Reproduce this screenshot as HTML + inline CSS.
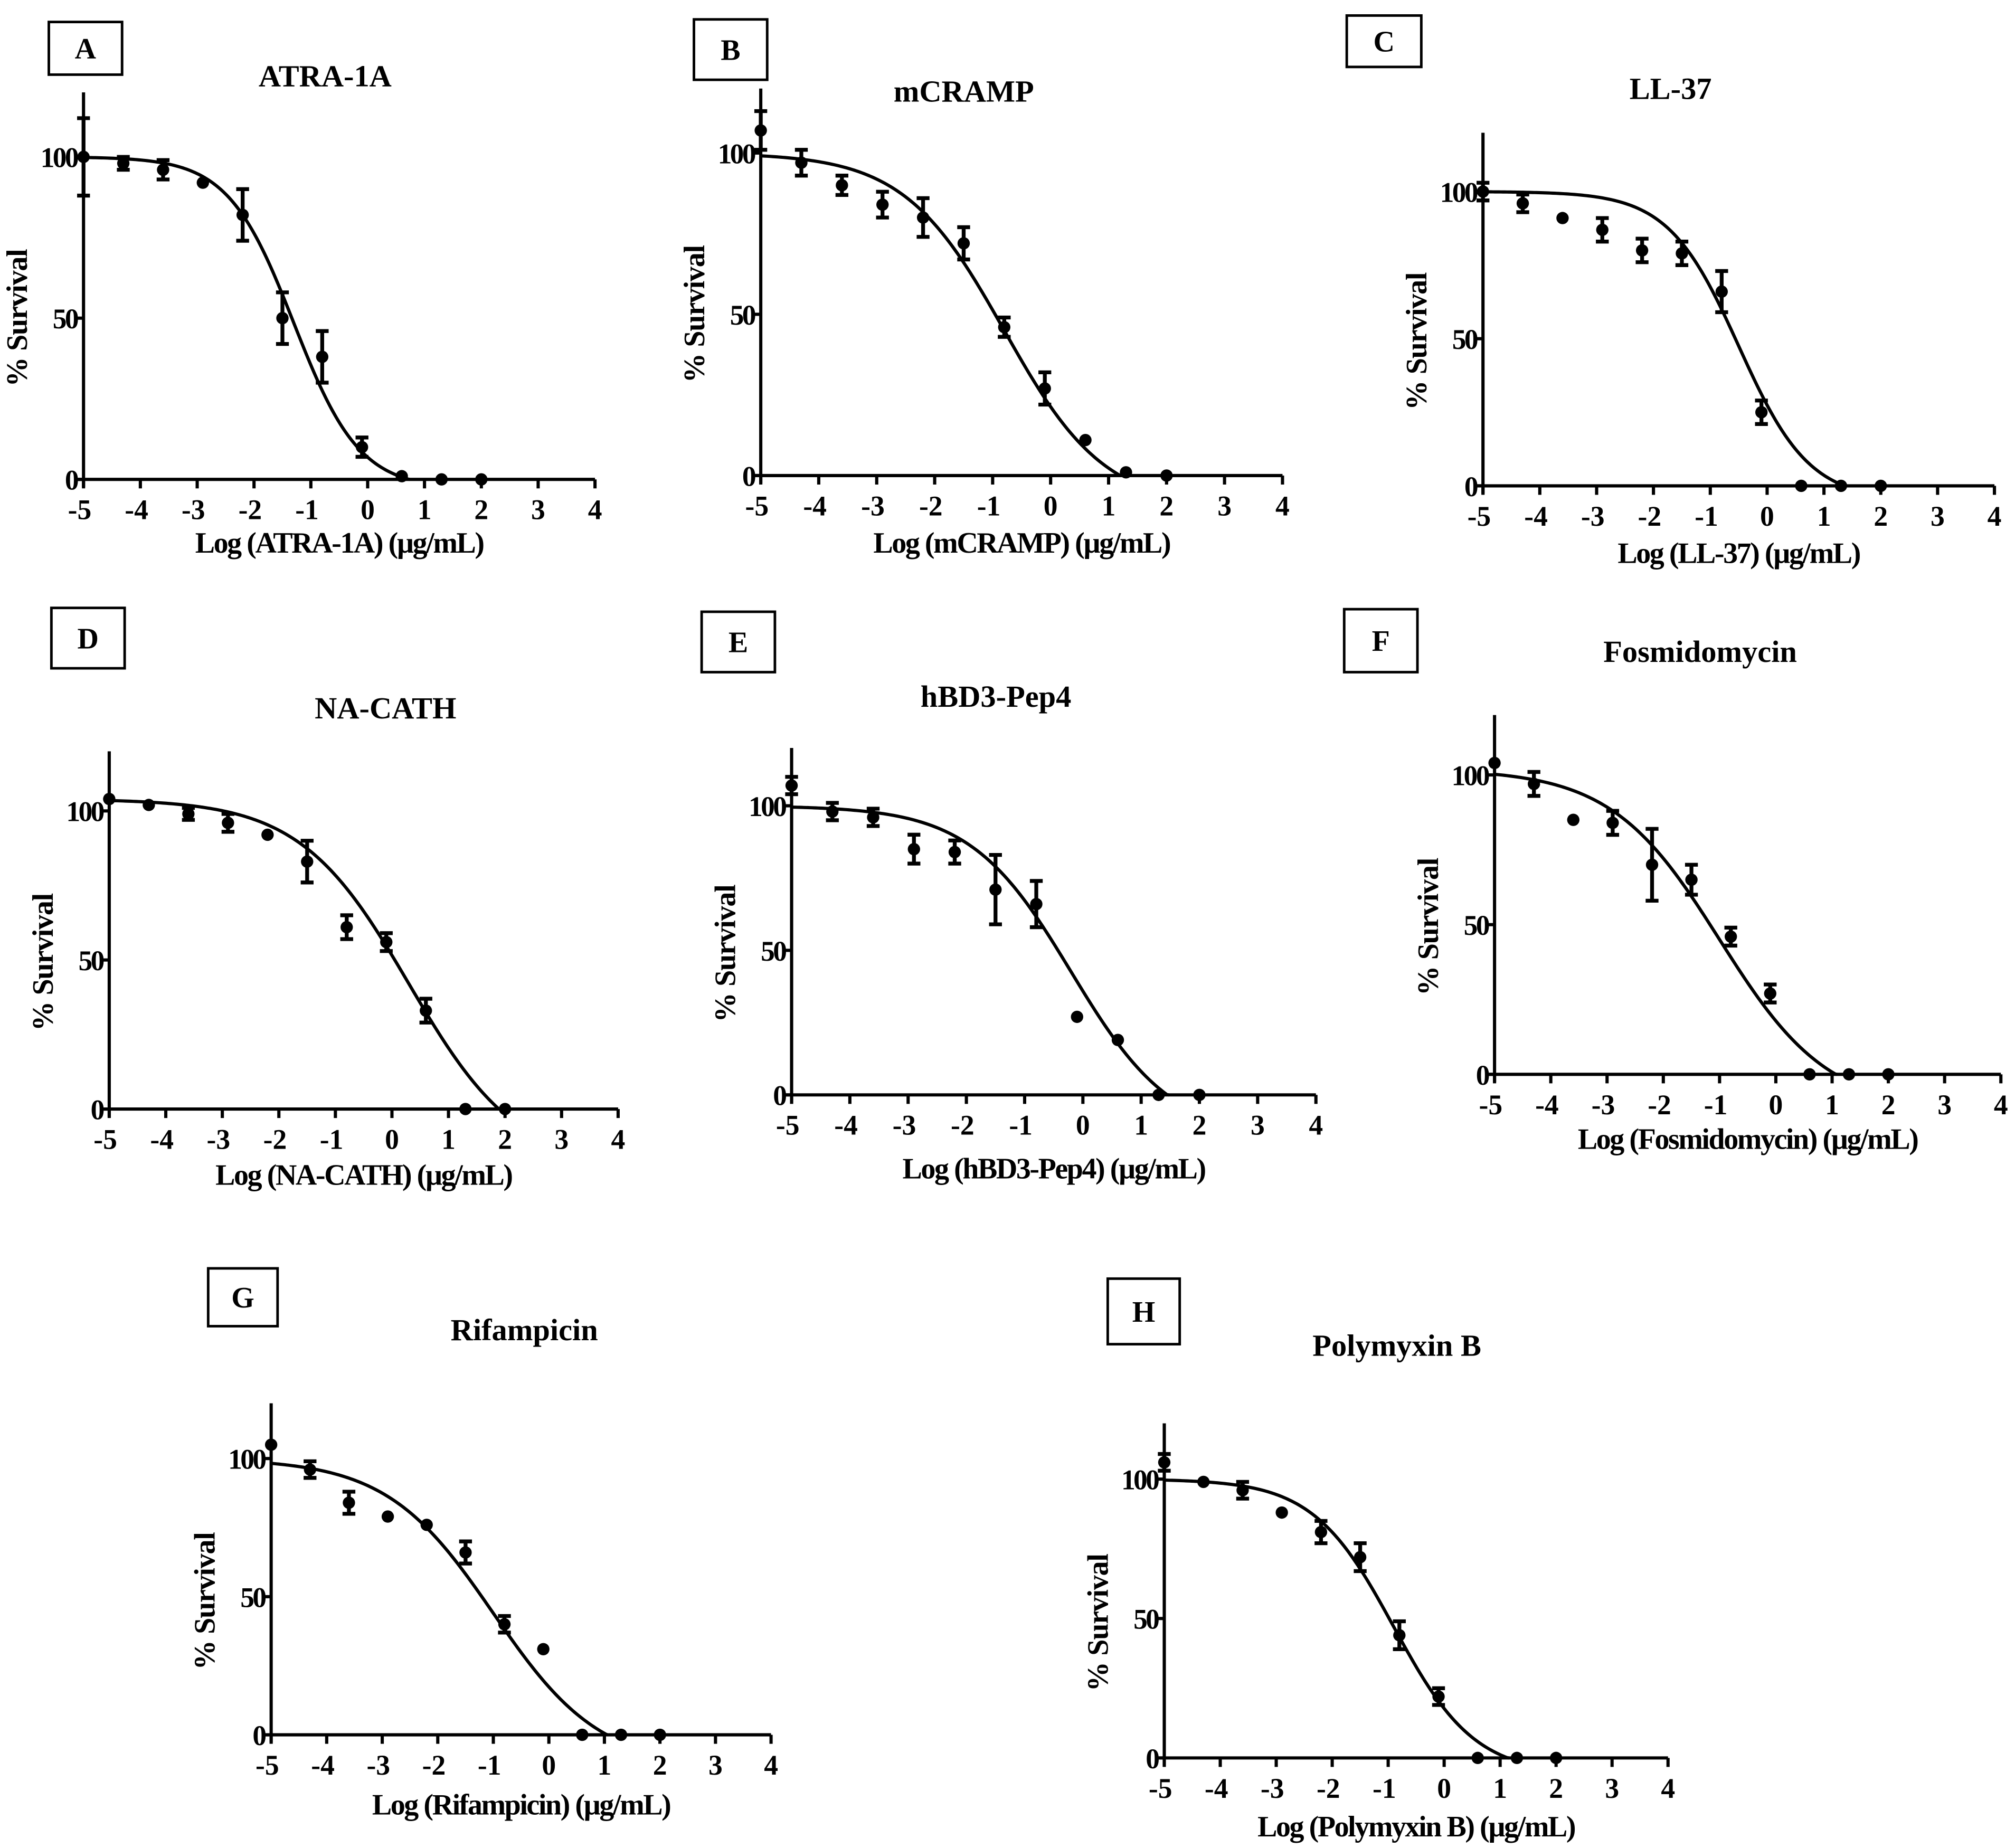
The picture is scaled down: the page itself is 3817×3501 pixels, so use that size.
<!DOCTYPE html>
<html><head><meta charset="utf-8"><style>
html,body{margin:0;padding:0;background:#fff;}
svg{display:block;}
text{font-family:"Liberation Serif",serif;font-weight:bold;fill:#000;}
</style></head><body>
<svg id="fig" width="3817" height="3501" viewBox="0 0 1568 1438" xmlns="http://www.w3.org/2000/svg"></svg>
<script>
const xDoses = [-5, -4.3, -3.6, -2.9, -2.2, -1.5, -0.8, -0.1, 0.6, 1.3, 2.0];
const xTicks = [-5, -4, -3, -2, -1, 0, 1, 2, 3, 4];
const yTicks = [0, 50, 100];
const panelLetters = ["A","B","C","D","E","F","G","H"];
const panelTitles = ["ATRA-1A","mCRAMP","LL-37","NA-CATH","hBD3-Pep4","Fosmidomycin","Rifampicin","Polymyxin B"];
const valsA = [100, 98, 96, 92, 82, 50, 38, 10, 1, 0, 0];
const errA  = [12, 2, 3, 0, 8, 8, 8, 3, 0, 0, 0];
const valsB = [107, 97, 90, 84, 80, 72, 46, 27, 11, 1, 0];
const errB  = [6, 4, 3, 4, 6, 5, 3, 5, 0, 0, 0];
const valsC = [100, 96, 91, 87, 80, 79, 66, 25, 0, 0, 0];
const errC  = [3, 3, 0, 4, 4, 4, 7, 4, 0, 0, 0];
const valsD = [104, 102, 99, 96, 92, 83, 61, 56, 33, 0, 0];
const errD  = [0, 0, 2, 3, 0, 7, 4, 3, 4, 0, 0];
const valsE = [107, 98, 96, 85, 84, 71, 66, 27, 19, 0, 0];
const errE  = [3, 3, 3, 5, 4, 12, 8, 0, 0, 0, 0];
const valsF = [104, 97, 85, 84, 70, 65, 46, 27, 0, 0, 0];
const errF  = [0, 4, 0, 4, 12, 5, 3, 3, 0, 0, 0];
const valsG = [105, 96, 84, 79, 76, 66, 40, 31, 0, 0, 0];
const errG  = [0, 3, 4, 0, 0, 4, 3, 0, 0, 0, 0];
const valsH = [106, 99, 96, 88, 81, 72, 44, 22, 0, 0, 0];
const errH  = [3, 0, 3, 0, 4, 5, 5, 3, 0, 0, 0];
const fitTop = [100, 100, 100, 104, 100, 102, 100, 100];
const fitBottom = [-3, -10, -5, -20, -15, -12, -12, -6];
const fitIC50 = [-1.3, -0.8, -0.5, 0.3, -0.2, -1.0, -1.0, -0.9];
const fitHill = [-0.75, -0.5, -0.7, -0.45, -0.5, -0.45, -0.45, -0.6];

const allVals = [valsA,valsB,valsC,valsD,valsE,valsF,valsG,valsH];
const allErr = [errA,errB,errC,errD,errE,errF,errG,errH];
const layout = [
 {xa:65,xb:463,y0:373,y1:122,box:[38,17,57,41],tt:[253,67],xl:430},
 {xa:592,xb:998,y0:370,y1:119,box:[540,15,57,47],tt:[750,79],xl:430},
 {xa:1154,xb:1552,y0:378,y1:149,box:[1048,12,58,40],tt:[1300,77],xl:438},
 {xa:85,xb:481,y0:863,y1:631,box:[40,473,57,47],tt:[300,559],xl:922},
 {xa:616,xb:1024,y0:852,y1:627,box:[546,476,57,47],tt:[775,550],xl:917},
 {xa:1163,xb:1557,y0:836,y1:603,box:[1046,474,57,49],tt:[1323,515],xl:894},
 {xa:211,xb:600,y0:1350,y1:1135,box:[162,987,54,45],tt:[408,1043],xl:1412},
 {xa:906,xb:1298,y0:1368,y1:1151,box:[862,995,56,51],tt:[1087,1055],xl:1429}
];
const NS="http://www.w3.org/2000/svg";
const svg=document.getElementById('fig');
function mk(tag,attrs,parent){const e=document.createElementNS(NS,tag);for(const k in attrs)e.setAttribute(k,attrs[k]);(parent||svg).appendChild(e);return e;}

layout.forEach((L,i)=>{
  const g=mk('g',{});
  
  
  const X=v=>L.xa+(v+5)*(L.xb-L.xa)/9;
  const Y=v=>L.y0-v*(L.y0-L.y1)/100;
  const b=mk('rect',{x:L.box[0],y:L.box[1],width:L.box[2],height:L.box[3],fill:'none',stroke:'#000','stroke-width':2},g);
  
  
  const lt=mk('text',{x:L.box[0]+L.box[2]/2,y:L.box[1]+L.box[3]/2+8,'text-anchor':'middle','font-size':23},g);
  lt.textContent=panelLetters[i];
  
  
  const tt=mk('text',{x:L.tt[0],y:L.tt[1],'text-anchor':'middle','font-size':24},g);
  tt.textContent=panelTitles[i];
  
  
  const yTop=Y(120);
  const ya=mk('line',{x1:X(-5),y1:yTop,x2:X(-5),y2:L.y0+6,stroke:'#000','stroke-width':2.5},g);
  
  
  const xa=mk('line',{x1:X(-5)-6,y1:L.y0,x2:X(4),y2:L.y0,stroke:'#000','stroke-width':2.5},g);
  
  
  xTicks.forEach(t=>{
    mk('line',{x1:X(t),y1:L.y0,x2:X(t),y2:L.y0+7,stroke:'#000','stroke-width':2.5},g);
    const tl=mk('text',{x:X(t)-(t<0?3:0),y:L.y0+31,'text-anchor':'middle','font-size':22},g);
    tl.textContent=t;
    
    
  });
  yTicks.forEach(t=>{
    mk('line',{x1:X(-5)-6,y1:Y(t),x2:X(-5),y2:Y(t),stroke:'#000','stroke-width':2.5},g);
    const tl=mk('text',{x:X(-5)-5,y:Y(t)+8,'text-anchor':'end','font-size':22,'letter-spacing':'-1.5'},g);
    tl.textContent=t;
    
    
  });
  const yl=mk('text',{transform:`translate(${X(-5)-44},${(L.y0+yTop)/2+25}) rotate(-90)`,'text-anchor':'middle','font-size':23,'letter-spacing':'-0.5'},g);
  yl.textContent='% Survival';
  
  
  const xl=mk('text',{x:(X(-5)+X(4))/2,y:L.xl,'text-anchor':'middle','font-size':23,'letter-spacing':'-1'},g);
  xl.textContent='Log ('+panelTitles[i]+') (\u00b5g/mL)';
  
  
  let d='';
  for(let k=0;k<=200;k++){
    const xv=-5+k*7/200;
    let yv=fitBottom[i]+(fitTop[i]-fitBottom[i])/(1+Math.pow(10,(fitIC50[i]-xv)*fitHill[i]));
    if(yv<0)yv=0;
    d+=(k?'L':'M')+X(xv).toFixed(2)+','+Y(yv).toFixed(2);
    if(yv<=0)break;
  }
  const c=mk('path',{d:d,fill:'none',stroke:'#000','stroke-width':2.5},g);
  
  
  allVals[i].forEach((v,j)=>{
    const e=allErr[i][j];
    const cx=X(xDoses[j]);
    if(e>0){
      const eb=mk('path',{d:`M${cx},${Y(v+e)}L${cx},${Y(v-e)}M${cx-5},${Y(v+e)}L${cx+5},${Y(v+e)}M${cx-5},${Y(v-e)}L${cx+5},${Y(v-e)}`,stroke:'#000','stroke-width':3,fill:'none'},g);
      
      
    }
    const p=mk('circle',{cx:cx,cy:Y(v),r:4.8,fill:'#000'},g);
    
    
  });
});
</script>
</body></html>
